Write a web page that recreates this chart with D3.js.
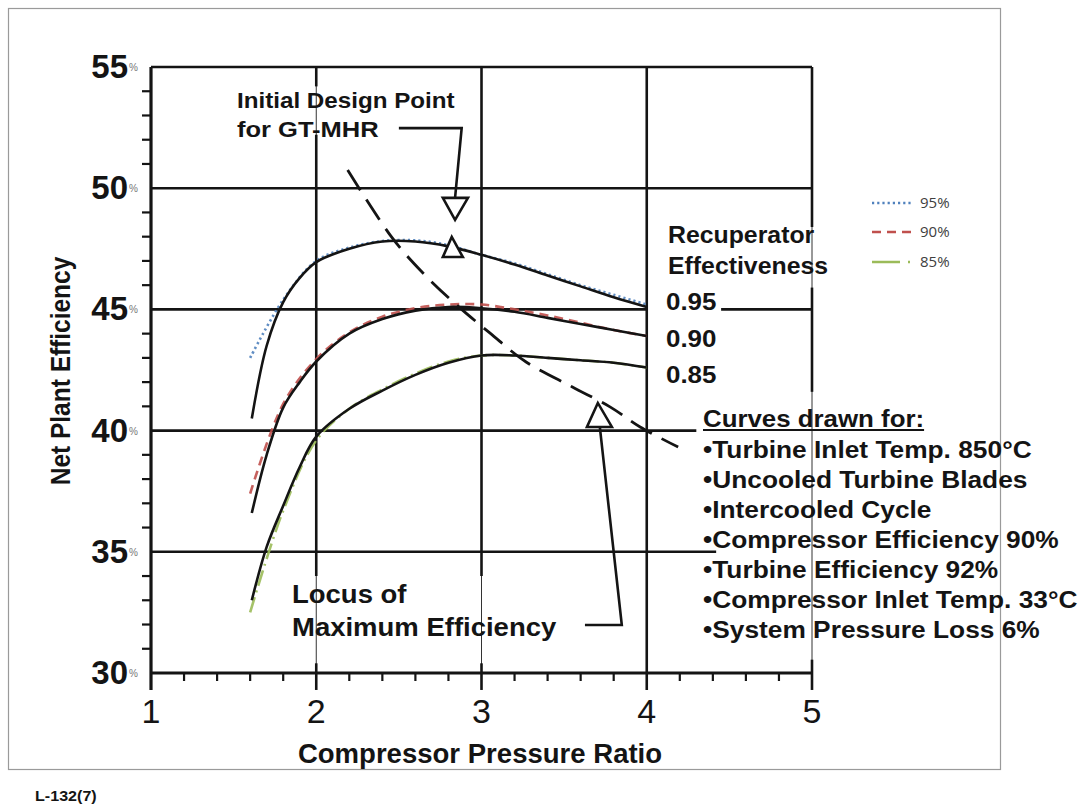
<!DOCTYPE html>
<html>
<head>
<meta charset="utf-8">
<script src="https://cdn.jsdelivr.net/npm/d3@7"></script>
<style>
  html, body { margin: 0; padding: 0; background: #fff; }
  svg { display: block; }
  text { font-family: "Liberation Sans", Arial, Helvetica, sans-serif; }
</style>
</head>
<body>
<svg id="chart" width="1092" height="805"></svg>
<script>
// ---------------- DATA ----------------
const xTicks = [1, 2, 3, 4, 5];
const yTicks = [30, 35, 40, 45, 50, 55];

// Overlaid spreadsheet series (recuperator effectiveness)
const seriesX = [1.6, 1.8, 2.0, 2.2, 2.4, 2.6, 2.8, 3.0, 3.2, 3.4, 3.6, 3.8, 4.0];
const eff95 = [43.0, 45.4, 47.0, 47.55, 47.82, 47.85, 47.65, 47.25, 46.9, 46.45, 46.0, 45.6, 45.2];
const eff90 = [37.4, 41.1, 42.95, 44.05, 44.7, 45.05, 45.2, 45.2, 45.0, 44.75, 44.45, 44.15, 43.9];
const eff85 = [32.5, 36.7, 39.6, 40.9, 41.7, 42.35, 42.85, 43.1, 43.1, 43.0, 42.9, 42.8, 42.6];
const seriesNames = ["95%", "90%", "85%"];

// Original (scanned) black curves
const scanX = [1.61, 1.7, 1.8, 1.9, 2.0, 2.2, 2.4, 2.6, 2.8, 3.0, 3.2, 3.4, 3.6, 3.8, 4.0];
const scan095 = [40.5, 43.5, 45.3, 46.3, 46.95, 47.5, 47.8, 47.8, 47.6, 47.25, 46.85, 46.4, 45.95, 45.5, 45.1];
const scan090 = [36.6, 39.0, 40.95, 42.0, 42.85, 44.0, 44.6, 44.95, 45.1, 45.05, 44.9, 44.65, 44.4, 44.15, 43.9];
const scan085 = [33.0, 35.2, 36.9, 38.5, 39.75, 40.9, 41.65, 42.3, 42.8, 43.1, 43.1, 43.0, 42.9, 42.8, 42.6];
const curveLabels = ["0.95", "0.90", "0.85"];

// Locus of maximum efficiency (dashed)
const locusX = [2.19, 2.46, 2.64, 2.83, 3.05, 3.27, 3.55, 3.78, 3.96, 4.19];
const locusY = [50.75, 47.95, 46.54, 45.3, 44.03, 42.83, 41.8, 40.97, 40.15, 39.32];

const noteLines = [
  "\u2022Turbine Inlet Temp. 850\u00B0C",
  "\u2022Uncooled Turbine Blades",
  "\u2022Intercooled Cycle",
  "\u2022Compressor Efficiency 90%",
  "\u2022Turbine Efficiency 92%",
  "\u2022Compressor Inlet Temp. 33\u00B0C",
  "\u2022System Pressure Loss 6%"
];

// ---------------- LAYOUT ----------------
const svg = d3.select("#chart");
const x = d3.scaleLinear().domain([1, 5]).range([151, 812]);
const y = d3.scaleLinear().domain([30, 55]).range([673, 67]);
const INK = "#141414";

// frame
svg.append("rect").attr("x", 8.5).attr("y", 8.5).attr("width", 992).attr("height", 761)
  .attr("fill", "none").attr("stroke", "#9a9a9a").attr("stroke-width", 1.2);

const g = svg.append("g");

function seg(x0, y0, x1, y1, w, col) {
  g.append("line").attr("x1", x(x0)).attr("y1", y(y0)).attr("x2", x(x1)).attr("y2", y(y1))
    .attr("stroke", col || INK).attr("stroke-width", w);
}

// thin vertical gridlines (spreadsheet overlay)
[2, 3, 5].forEach(v => seg(v, 55, v, 30, 1, "#333"));

// thick scanned gridlines
const hGrid = [[35, 1, 4.42], [40, 1, 4.3], [45, 1, 4.0], [45, 4.45, 5], [50, 1, 5], [55, 1, 5]];
hGrid.forEach(d => seg(d[1], d[0], d[2], d[0], 2.6));
const vGrid = [[2, 55, 54.2], [2, 52.2, 34], [3, 55, 34], [4, 55, 29.3], [5, 55, 48.4], [5, 45.9, 41.6], [5, 30.55, 29.3], [2, 30.4, 29.3], [3, 30.4, 29.3]];
vGrid.forEach(d => seg(d[0], d[1], d[0], d[2], 2.6));

// axes
seg(1, 55, 1, 29.3, 3.2);
seg(1, 30, 5, 30, 3.2);

// minor ticks
d3.range(31, 55).filter(v => v % 5 !== 0).forEach(v => {
  g.append("line").attr("x1", x(1) - 9).attr("x2", x(1)).attr("y1", y(v)).attr("y2", y(v))
    .attr("stroke", INK).attr("stroke-width", 2.2);
});
d3.range(1.2, 5.0, 0.2).filter(v => Math.abs(v - Math.round(v)) > 0.05).forEach(v => {
  g.append("line").attr("x1", x(v)).attr("x2", x(v)).attr("y1", y(30)).attr("y2", y(30) + 8)
    .attr("stroke", INK).attr("stroke-width", 2.2);
});

// text helper (scan text is slightly wide)
function txt(px, py, s, size, opt) {
  opt = opt || {};
  const t = svg.append("text")
    .attr("transform", `translate(${px},${py}) scale(${opt.sx || 1},1)`)
    .attr("text-anchor", opt.anchor || "start")
    .attr("font-size", size)
    .attr("font-weight", opt.weight || "bold")
    .attr("fill", opt.fill || INK)
    .text(s);
  if (opt.family) t.style("font-family", opt.family);
  return t;
}

// y tick labels
yTicks.forEach(v => {
  txt(128, y(v) + 11, String(v), 33, { anchor: "end" });
  txt(129, y(v) + 4, "%", 10, { weight: "normal", fill: "#777" });
});
// x tick labels
xTicks.forEach(v => txt(x(v), 723, String(v), 34, { anchor: "middle", weight: "normal" }));

// axis titles
txt(480, 763, "Compressor Pressure Ratio", 27, { anchor: "middle", sx: 1.02 });
svg.append("text")
  .attr("transform", `translate(70,371) scale(1.12,1) rotate(-90)`)
  .attr("text-anchor", "middle").attr("font-size", 24.5).attr("font-weight", "bold")
  .attr("fill", INK).text("Net Plant Efficiency");

// ---------- series ----------
const line = d3.line().x(d => x(d[0])).y(d => y(d[1])).curve(d3.curveCatmullRom.alpha(0.5));
const colored = [
  { v: eff95, color: "#4f81bd", dash: "2.2,3" },
  { v: eff90, color: "#c0504d", dash: "9,6" },
  { v: eff85, color: "#9bbb59", dash: "16,5,2,5" }
];
colored.forEach(s => {
  g.append("path").datum(seriesX.map((xx, i) => [xx, s.v[i]]))
    .attr("d", line).attr("fill", "none").attr("stroke", s.color)
    .attr("stroke-width", 2.6).attr("stroke-dasharray", s.dash).attr("opacity", 0.9);
});

[scan095, scan090, scan085].forEach(arr => {
  g.append("path").datum(scanX.map((xx, i) => [xx, arr[i]]))
    .attr("d", line).attr("fill", "none").attr("stroke", INK).attr("stroke-width", 2.6);
});

// locus dashed line
g.append("path").datum(locusX.map((xx, i) => [xx, locusY[i]]))
  .attr("d", d3.line().x(d => x(d[0])).y(d => y(d[1])).curve(d3.curveCatmullRom))
  .attr("fill", "none").attr("stroke", INK).attr("stroke-width", 2.8)
  .attr("stroke-dasharray", "24,11");

// ---------- annotations ----------
const poly = d3.line().x(d => x(d[0])).y(d => y(d[1]));
const designArrow = [[2.5, 52.48], [2.88, 52.48], [2.84, 49.6]];
const designTri = [[2.766, 49.6], [2.918, 49.6], [2.84, 48.69], [2.766, 49.6]];
const designMark = [[2.766, 47.16], [2.887, 47.16], [2.82, 47.99], [2.766, 47.16]];
const locusArrow = [[3.626, 31.98], [3.849, 31.98], [3.716, 40.15]];
const locusTri = [[3.638, 40.15], [3.789, 40.15], [3.704, 41.14], [3.638, 40.15]];
[designArrow, locusArrow].forEach(p => g.append("path").attr("d", poly(p))
  .attr("fill", "none").attr("stroke", INK).attr("stroke-width", 2.6).attr("stroke-linejoin", "miter"));
[designTri, designMark, locusTri].forEach(p => g.append("path").attr("d", poly(p) + "Z")
  .attr("fill", "#fff").attr("stroke", INK).attr("stroke-width", 2.6));

txt(237, 108, "Initial Design Point", 22, { sx: 1.1 });
txt(237, 137, "for GT-MHR", 22, { sx: 1.16 });
txt(668, 243, "Recuperator", 23, { sx: 1.08 });
txt(668, 274, "Effectiveness", 23, { sx: 1.08 });
[310, 347, 383].forEach((py, i) => txt(666, py, curveLabels[i], 24, { sx: 1.08 }));

const cdf = txt(703, 427, "Curves drawn for:", 23.5, { sx: 1.1 });
const cw = cdf.node().getComputedTextLength() * 1.1;
svg.append("line").attr("x1", 703).attr("x2", 703 + cw).attr("y1", 430).attr("y2", 430)
  .attr("stroke", INK).attr("stroke-width", 2);
noteLines.forEach((s, i) => txt(703, 458 + i * 30, s, 23.5, { sx: 1.12 }));

txt(292, 603, "Locus of", 25, { sx: 1.1 });
txt(292, 636, "Maximum Efficiency", 25, { sx: 1.1 });

txt(35, 801, "L-132(7)", 14, { sx: 1.15 });

// ---------- legend ----------
const legY = [203, 232, 262];
colored.forEach((s, i) => {
  svg.append("line").attr("x1", 872).attr("x2", 912).attr("y1", legY[i]).attr("y2", legY[i])
    .attr("stroke", s.color).attr("stroke-width", 2.6).attr("stroke-dasharray", i === 2 ? "28,8,2,8" : s.dash);
  txt(920, legY[i] + 5, seriesNames[i], 15, { weight: "normal", fill: "#404040", family: "'Open Sans', 'Liberation Sans', sans-serif" });
});
</script>
</body>
</html>
